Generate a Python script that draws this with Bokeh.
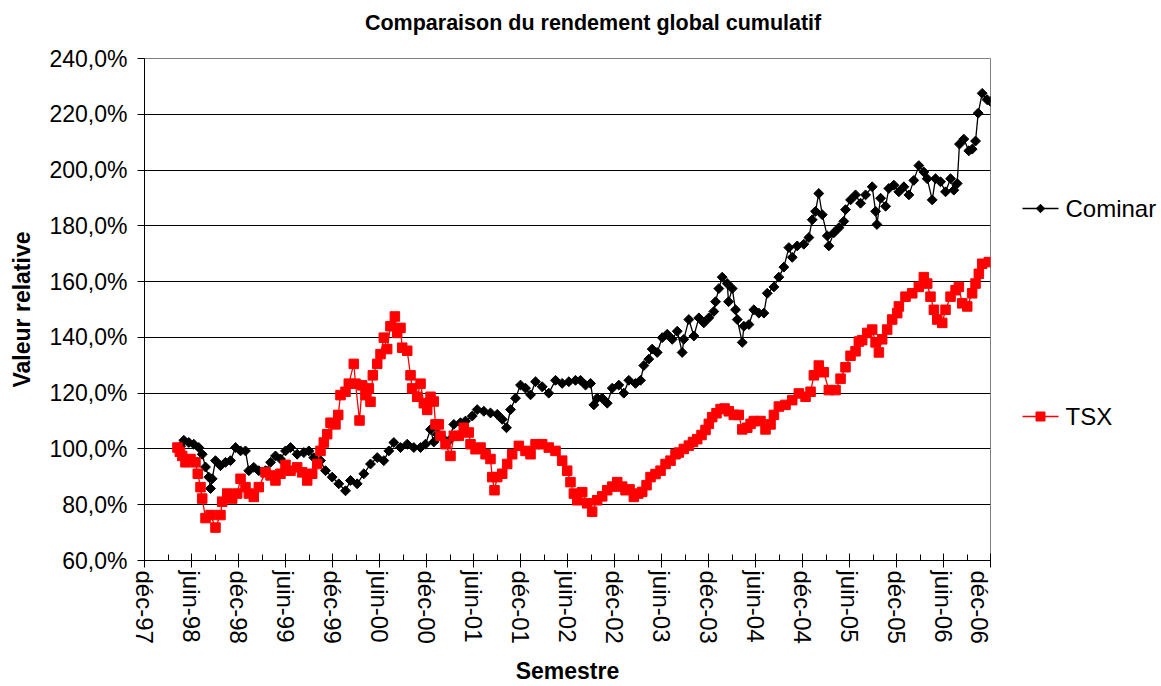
import numpy as np
from bokeh.plotting import figure
from bokeh.layouts import row, column
from bokeh.models import FixedTicker, Range1d
from bokeh.core.properties import value
from bokeh.embed import file_html
from bokeh.resources import INLINE

# x positions are months since December 1997
x_tick_labels = ["déc-97", "juin-98", "déc-98", "juin-99", "déc-99", "juin-00", "déc-00",
                 "juin-01", "déc-01", "juin-02", "déc-02", "juin-03", "déc-03", "juin-04",
                 "déc-04", "juin-05", "déc-05", "juin-06", "déc-06"]
y_ticks = [60, 80, 100, 120, 140, 160, 180, 200, 220, 240]
y_tick_labels = ["60,0%", "80,0%", "100,0%", "120,0%", "140,0%", "160,0%", "180,0%",
                 "200,0%", "220,0%", "240,0%"]
series_names = ["Cominar", "TSX"]

cominar_month = [
    4.6, 5.02, 5.66, 6.29, 6.93, 7.37, 7.79, 8.21, 8.43, 8.64,
    9.06, 9.70, 10.34, 10.98, 11.62, 12.26, 12.89, 13.32, 13.95, 14.59,
    15.45, 16.09, 16.72, 17.36, 18.0, 18.64, 19.49, 20.34, 20.98, 21.61,
    22.47, 23.11, 23.96, 24.80, 25.66, 26.30, 27.15, 28.0, 28.85, 29.71,
    30.55, 31.19, 31.83, 32.68, 33.54, 34.38, 35.24, 35.87, 36.51, 36.93,
    37.37, 38.21, 38.85, 39.49, 40.34, 40.98, 41.84, 42.47, 43.32, 44.17,
    45.03, 45.67, 46.21, 46.73, 47.36, 48.0, 48.64, 49.28, 49.92, 50.77,
    51.61, 52.47, 53.32, 54.17, 55.02, 55.66, 56.30, 56.94, 57.36, 57.79,
    58.43, 59.07, 59.71, 60.55, 61.19, 61.83, 62.68, 63.32, 63.74, 64.38,
    64.81, 65.45, 66.09, 66.73, 67.37, 68.01, 68.64, 68.85, 69.49, 70.13,
    70.77, 71.40, 72.04, 72.68, 72.90, 73.32, 73.75, 74.39, 74.56, 75.03,
    75.45, 75.67, 76.31, 76.52, 77.16, 77.79, 78.43, 79.07, 79.50, 80.35,
    80.98, 81.62, 82.26, 82.69, 83.33, 84.17, 84.81, 85.24, 85.66, 86.08,
    86.52, 87.16, 87.36, 88.0, 88.64, 89.27, 89.49, 90.13, 90.77, 91.41,
    92.05, 92.90, 93.33, 93.50, 93.97, 94.61, 95.02, 95.66, 96.30, 96.94,
    97.58, 98.21, 98.85, 99.49, 99.92, 100.56, 100.98, 101.62, 102.26, 102.90,
    103.32, 103.75, 104.04, 104.59, 105.23, 105.66, 106.09, 106.43, 106.94, 107.58,
    108.0]
cominar_value = [
    101.0, 103.1, 102.3, 101.7, 100.5, 98.1, 93.5, 89.9, 85.8, 89.3,
    95.8, 94.0, 95.2, 95.8, 100.5, 99.3, 99.3, 92.2, 93.4, 92.2,
    92.2, 95.2, 97.5, 96.4, 99.3, 100.5, 98.1, 98.7, 99.3, 96.9,
    95.8, 92.2, 89.9, 87.5, 85.0, 88.7, 87.5, 91.1, 94.6, 96.9,
    95.8, 99.3, 102.3, 100.5, 101.7, 100.5, 100.5, 101.7, 107.0, 102.5,
    105.3, 103.5, 102.9, 108.8, 109.4, 110.0, 111.8, 114.1, 113.5, 112.9,
    112.4, 110.6, 107.6, 114.1, 118.2, 122.9, 121.8, 119.4, 124.1, 122.3,
    120.0, 124.6, 123.5, 124.1, 124.6, 124.6, 122.9, 123.5, 115.8, 118.2,
    118.2, 116.4, 121.8, 122.9, 120.0, 124.6, 123.5, 124.6, 129.9, 132.2,
    135.8, 134.6, 139.9, 141.1, 139.3, 142.2, 134.6, 139.3, 146.4, 140.5,
    147.0, 145.2, 147.0, 149.3, 152.8, 157.5, 161.6, 159.3, 152.8, 157.5,
    149.9, 146.4, 138.2, 144.0, 144.6, 149.9, 148.7, 148.7, 155.8, 158.1,
    161.6, 165.2, 172.2, 168.7, 172.8, 173.4, 175.8, 182.2, 185.2, 191.6,
    184.0, 176.4, 172.8, 177.5, 179.3, 181.6, 185.8, 189.3, 191.1, 188.1,
    191.1, 194.0, 185.2, 180.5, 189.9, 187.0, 193.4, 194.6, 192.2, 194.0,
    191.1, 196.3, 201.6, 199.3, 196.9, 189.3, 196.9, 195.8, 192.2, 196.9,
    192.8, 195.2, 209.3, 211.1, 206.9, 207.5, 210.4, 220.4, 227.5, 225.2,
    224.6]

tsx_month = [
    4.21, 4.51, 4.81, 5.23, 5.87, 6.51, 6.80, 7.15, 7.37, 7.79,
    8.43, 9.06, 9.70, 9.92, 10.56, 11.20, 11.83, 12.26, 12.89, 13.32,
    13.95, 14.59, 15.45, 16.09, 16.72, 17.36, 18.0, 18.64, 19.49, 20.13,
    20.77, 21.41, 22.05, 22.47, 22.89, 23.32, 23.75, 24.38, 24.73, 25.02,
    25.66, 26.08, 26.72, 26.94, 27.45, 27.79, 28.21, 28.64, 28.85, 29.15,
    29.71, 30.13, 30.55, 30.98, 31.40, 31.96, 32.26, 32.68, 32.90, 33.54,
    33.96, 34.17, 34.81, 35.24, 35.66, 36.09, 36.51, 36.93, 37.15, 37.57,
    37.79, 38.43, 39.06, 39.49, 40.13, 40.76, 41.40, 41.62, 42.26, 42.90,
    43.54, 44.17, 44.39, 44.68, 45.03, 45.67, 46.30, 46.94, 47.79, 48.64,
    49.28, 49.92, 50.77, 51.61, 52.47, 53.32, 53.96, 54.38, 54.81, 55.24,
    55.88, 56.51, 57.15, 57.79, 58.43, 59.07, 59.71, 60.35, 60.98, 61.41,
    61.92, 62.47, 63.03, 63.54, 64.09, 64.60, 65.24, 65.88, 66.52, 67.15,
    67.79, 68.22, 68.85, 69.49, 70.02, 70.56, 71.11, 71.62, 72.04, 72.47,
    73.02, 73.54, 74.05, 74.59, 75.23, 75.86, 76.31, 76.95, 77.37, 77.79,
    78.64, 79.28, 79.92, 80.35, 80.98, 81.83, 82.69, 83.53, 84.39, 85.03,
    85.45, 86.08, 86.72, 87.36, 88.22, 88.86, 89.49, 90.13, 90.77, 91.19,
    91.62, 92.26, 92.90, 93.33, 93.75, 94.17, 94.81, 95.45, 96.09, 96.30,
    97.15, 98.01, 98.85, 99.49, 99.92, 100.34, 100.77, 101.20, 101.84, 102.26,
    102.90, 103.54, 103.96, 104.39, 105.03, 105.66, 106.09, 106.51, 106.94, 107.78]
tsx_value = [
    100.5, 99.0, 97.5, 95.2, 96.4, 95.2, 91.1, 86.3, 82.2, 75.2,
    76.3, 71.8, 76.3, 81.1, 84.0, 82.2, 84.0, 89.3, 86.3, 84.0,
    82.8, 86.3, 91.6, 90.5, 88.7, 91.1, 94.3, 92.2, 93.4, 91.6,
    88.7, 91.1, 94.6, 99.3, 102.3, 105.3, 109.4, 108.8, 112.2, 119.3,
    120.5, 123.4, 130.5, 123.4, 110.2, 122.8, 119.3, 121.7, 116.9, 126.4,
    130.5, 134.0, 139.9, 135.8, 144.0, 147.5, 141.6, 143.4, 136.3, 135.2,
    126.4, 121.7, 118.7, 123.4, 116.4, 114.0, 118.7, 117.0, 108.8, 108.8,
    104.7, 101.7, 97.5, 104.7, 104.7, 107.6, 105.9, 101.7, 99.9, 100.5,
    98.1, 96.4, 89.9, 85.2, 89.9, 91.1, 94.6, 98.1, 101.1, 99.3,
    98.1, 101.7, 101.7, 100.5, 99.3, 95.8, 92.2, 88.1, 84.0, 81.6,
    84.5, 80.5, 77.5, 81.6, 83.0, 85.2, 86.5, 88.1, 86.5, 85.2,
    85.5, 82.8, 84.0, 84.6, 87.0, 89.9, 91.0, 92.2, 94.6, 95.8,
    98.1, 98.7, 100.0, 101.2, 102.5, 103.5, 105.0, 106.8, 109.0, 111.4,
    112.8, 114.3, 114.5, 113.5, 112.2, 112.2, 107.0, 107.6, 109.0, 110.0,
    110.0, 107.0, 108.8, 112.2, 115.2, 115.8, 117.5, 119.9, 118.7, 120.5,
    126.4, 129.9, 127.5, 121.1, 121.1, 125.2, 129.3, 133.4, 135.0, 138.5,
    139.0, 141.6, 142.8, 138.2, 134.6, 139.3, 142.8, 146.4, 148.7, 151.1,
    154.6, 155.8, 158.1, 161.6, 159.3, 154.6, 149.9, 146.4, 145.2, 149.9,
    154.6, 156.9, 158.1, 152.2, 151.1, 155.8, 159.3, 162.8, 166.4, 167.0]

FONT = "Liberation Sans"
TITLE = "Comparaison du rendement global cumulatif"
x_major = [6 * i for i in range(len(x_tick_labels))]
x_minor = [6 * i + 3 for i in range(len(x_tick_labels) - 1)]

MAIN_W, TITLE_H, MAIN_H, LEG_W = 992, 44, 642, 166


def blank(w, h):
    f = figure(width=w, height=h, output_backend="svg", toolbar_location=None,
               x_axis_location=None, y_axis_location=None,
               x_range=Range1d(0, w), y_range=Range1d(h, 0),
               min_border=0, outline_line_color=None,
               background_fill_color="white", border_fill_color="white")
    f.grid.visible = False
    return f


# ---- title strip ----
ptitle = blank(MAIN_W, TITLE_H)
ptitle.text(x=[526], y=[22], text=[TITLE], text_font=value(FONT),
            text_font_size="21.5px", text_font_style="bold", text_color="black",
            text_align="center", text_baseline="middle")

# ---- main chart ----
p = figure(width=MAIN_W, height=MAIN_H, output_backend="svg", toolbar_location=None,
           x_range=Range1d(0, 108), y_range=Range1d(60, 240),
           min_border_left=144, min_border_right=2, min_border_top=14,
           min_border_bottom=118, background_fill_color="white",
           border_fill_color="white")

p.outline_line_color = "#808080"
p.outline_line_width = 1

p.xgrid.visible = False
p.ygrid.ticker = FixedTicker(ticks=y_ticks)
p.ygrid.grid_line_color = "black"
p.ygrid.grid_line_width = 1

p.xaxis.ticker = FixedTicker(ticks=x_major, minor_ticks=x_minor)
p.xaxis.major_label_overrides = {v: s for v, s in zip(x_major, x_tick_labels)}
p.xaxis.major_label_orientation = "vertical"
p.xaxis.major_tick_in = 7
p.xaxis.major_tick_out = 7
p.xaxis.minor_tick_in = 6
p.xaxis.minor_tick_out = 0
p.xaxis.major_label_standoff = 3
p.xaxis.axis_label = "Semestre"
p.xaxis.axis_label_standoff = 11

p.yaxis.ticker = FixedTicker(ticks=y_ticks)
p.yaxis.major_label_overrides = {v: s for v, s in zip(y_ticks, y_tick_labels)}
p.yaxis.major_tick_in = 0
p.yaxis.major_tick_out = 7
p.yaxis.minor_tick_line_color = None
p.yaxis.major_label_standoff = 10
p.yaxis.axis_label = "Valeur relative"
p.yaxis.axis_label_standoff = 11

for ax in (p.xaxis, p.yaxis):
    ax.axis_line_color = "black"
    ax.major_tick_line_color = "black"
    ax.major_label_text_font = FONT
    ax.major_label_text_color = "black"
    ax.axis_label_text_font = FONT
    ax.axis_label_text_font_size = "23px"
    ax.axis_label_text_font_style = "bold"
    ax.axis_label_text_color = "black"
p.xaxis.minor_tick_line_color = "black"
p.xaxis.major_label_text_font_size = "24px"
p.yaxis.major_label_text_font_size = "23px"

p.line(cominar_month, cominar_value, line_color="black", line_width=1.3)
p.scatter(cominar_month, cominar_value, marker="square", angle=np.pi / 4,
          size=7, fill_color="black", line_color="black")
p.line(tsx_month, tsx_value, line_color="#FF0000", line_width=1.3)
p.scatter(tsx_month, tsx_value, marker="square", size=9.5,
          fill_color="#FF0000", line_color="#FF0000")

# ---- legend strip (right) ----
pleg = blank(LEG_W, TITLE_H + MAIN_H)
leg_y = [208, 416]
pleg.multi_line(xs=[[30, 66], [30, 66]], ys=[[leg_y[0]] * 2, [leg_y[1]] * 2],
                line_color=["black", "#FF0000"], line_width=1.3)
pleg.scatter([48], [leg_y[0]], marker="square", angle=np.pi / 4, size=6,
             fill_color="black", line_color="black")
pleg.scatter([48], [leg_y[1]], marker="square", size=9,
             fill_color="#FF0000", line_color="#FF0000")
pleg.text(x=[73, 73], y=leg_y, text=series_names, text_font=value(FONT),
          text_font_size="24px", text_color="black", text_baseline="middle",
          text_align="left")

layout = row(column(ptitle, p, spacing=0), pleg, spacing=0)
open("out.html", "w").write(file_html(layout, INLINE))
